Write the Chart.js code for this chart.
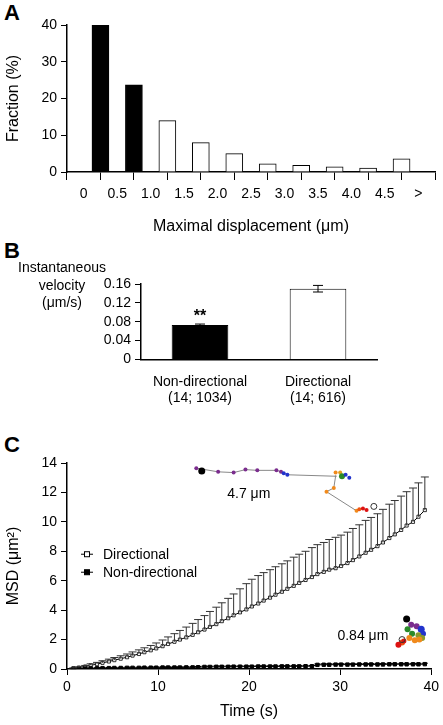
<!DOCTYPE html>
<html>
<head>
<meta charset="utf-8">
<script src="https://cdn.jsdelivr.net/npm/chart.js@4.4.1/dist/chart.umd.min.js"></script>
<style>
body { margin: 0; background: #fff; width: 443px; height: 725px; position: relative; overflow: hidden; font-family: "Liberation Sans", Arial, sans-serif; }
canvas { position: absolute; left: 0; }
.lbl { position: absolute; font-weight: bold; font-size: 22px; }
</style>
</head>
<body>
<div class="lbl" style="left:4px;top:0px">A</div>
<div class="lbl" style="left:4px;top:238px">B</div>
<div class="lbl" style="left:4px;top:432px">C</div>
<div style="position:absolute;left:0;top:0;width:443px;height:240px"><canvas id="chartA"></canvas></div>
<div style="position:absolute;left:0;top:240px;width:443px;height:185px"><canvas id="chartB"></canvas></div>
<div style="position:absolute;left:0;top:440px;width:443px;height:285px"><canvas id="chartC"></canvas></div>
<script>
// panel A: histogram of maximal displacement
var binCenters = [0.25, 0.75, 1.25, 1.75, 2.25, 2.75, 3.25, 3.75, 4.25, 4.75];
var fractions = [40, 23.7, 14, 8, 5, 2.2, 1.8, 1.4, 1.1, 3.6];
var fractionTicks = [0, 10, 20, 30, 40];

// panel B: instantaneous velocity
var velocityGroups = [['Non-directional', '(14; 1034)'], ['Directional', '(14; 616)']];
var velocityMeans = [0.073, 0.150];
var velocityErr = [0.002, 0.007];
var velocityTicks = [0, 0.04, 0.08, 0.12, 0.16];

// panel C: MSD vs time
var times = [0.7,1.3,2.0,2.6,3.3,3.9,4.6,5.2,5.9,6.6,7.2,7.9,8.5,9.2,9.8,10.5,11.1,11.8,12.4,13.1,13.8,14.4,15.1,15.7,16.4,17.0,17.7,18.3,19.0,19.7,20.3,21.0,21.6,22.3,22.9,23.6,24.2,24.9,25.5,26.2,26.9,27.5,28.2,28.8,29.5,30.1,30.8,31.4,32.1,32.8,33.4,34.1,34.7,35.4,36.0,36.7,37.3,38.0,38.6,39.3];
var msdDirectional = [0.05,0.1,0.17,0.25,0.33,0.42,0.51,0.6,0.7,0.8,0.91,1.02,1.14,1.27,1.4,1.55,1.7,1.85,2.0,2.15,2.32,2.5,2.68,2.86,3.05,3.25,3.45,3.65,3.85,4.05,4.25,4.45,4.65,4.85,5.05,5.25,5.45,5.65,5.85,6.05,6.25,6.45,6.6,6.75,6.85,7.0,7.2,7.4,7.65,7.9,8.1,8.35,8.6,8.9,9.15,9.45,9.75,10.0,10.35,10.8];
var errDirectional = [0.03,0.05,0.07,0.1,0.12,0.14,0.16,0.18,0.2,0.22,0.25,0.28,0.3,0.33,0.37,0.42,0.48,0.55,0.62,0.7,0.78,0.86,0.95,1.05,1.15,1.25,1.35,1.45,1.6,1.75,1.85,1.9,1.9,1.9,1.9,1.9,1.9,1.95,1.95,1.95,2.0,2.0,2.0,2.05,2.1,2.1,2.1,2.15,2.15,2.2,2.2,2.2,2.25,2.3,2.3,2.3,2.3,2.3,2.3,2.25];
var msdNonDirectional = [0.01,0.02,0.03,0.04,0.05,0.06,0.06,0.07,0.07,0.08,0.08,0.08,0.09,0.09,0.09,0.1,0.1,0.1,0.1,0.11,0.11,0.12,0.14,0.14,0.15,0.15,0.15,0.16,0.16,0.16,0.16,0.17,0.17,0.17,0.17,0.18,0.18,0.18,0.18,0.19,0.19,0.28,0.29,0.29,0.3,0.3,0.3,0.3,0.31,0.31,0.31,0.31,0.31,0.32,0.32,0.32,0.32,0.32,0.32,0.33];
var errNonDirectional = [0.01,0.02,0.03,0.03,0.04,0.04,0.04,0.04,0.04,0.04,0.04,0.04,0.04,0.04,0.05,0.05,0.05,0.05,0.05,0.05,0.05,0.05,0.05,0.05,0.05,0.05,0.05,0.05,0.05,0.05,0.05,0.05,0.05,0.05,0.05,0.05,0.05,0.05,0.05,0.05,0.05,0.06,0.06,0.06,0.06,0.06,0.06,0.06,0.06,0.06,0.06,0.06,0.06,0.06,0.06,0.06,0.06,0.06,0.06,0.06];
var msdTicks = [0, 2, 4, 6, 8, 10, 12, 14];

// example trajectories (decorative insets), [time, msd, colour, radius]
var trackLong = [[14.2,13.65,'#7b2d8e',2],[16.6,13.4,'#7b2d8e',2],[18.3,13.35,'#7b2d8e',2],[19.6,13.55,'#7b2d8e',2],[20.9,13.5,'#7b2d8e',2],[23.0,13.5,'#7b2d8e',2],[23.5,13.4,'#7b2d8e',2],[23.8,13.3,'#2233cc',2],[24.2,13.2,'#2233cc',2],[29.5,13.1,'#888',1],[29.3,12.3,'#f08a1c',2],[28.5,12.05,'#f08a1c',2],[29.5,13.35,'#f08a1c',2],[30.0,13.35,'#e0a020',2],[30.2,13.1,'#2a8a2a',3],[30.6,13.2,'#2233cc',2],[31.0,13.0,'#2233cc',2],[31.8,10.75,'#f08a1c',2],[32.1,10.85,'#ee5511',2],[32.5,10.9,'#dd1111',2],[32.9,10.8,'#dd1111',2]];
var trackShort = [[37.3,3.4,'#000',3.5],[37.8,3.0,'#7b2d8e',3],[38.4,2.9,'#7b2d8e',3],[38.9,2.7,'#2233cc',3.5],[39.1,2.4,'#2233cc',3],[37.4,2.7,'#2a8a2a',3],[37.9,2.4,'#2a8a2a',3],[38.6,2.3,'#8a9a2a',3],[39.0,2.1,'#8a9a2a',3],[37.6,2.1,'#f08a1c',3],[38.2,1.95,'#f08a1c',3],[38.7,2.0,'#f08a1c',3],[36.8,1.8,'#ee5511',3],[36.4,1.65,'#dd1111',3],[37.0,1.9,'#dd1111',2.5]];

var FONT = '"Liberation Sans", Arial, sans-serif';
Chart.defaults.font.family = FONT;
Chart.defaults.color = '#000';
Chart.defaults.animation = false;

function axisFit(w) {
    return function (scale) { scale.width = w; };
}
function fixedTicks(list) {
    return function (s) { s.ticks = list.map(function (v) { return { value: v }; }); };
}

// error bars drawn from dataset.errors
var errorBarPlugin = {
    id: 'errorBars',
    afterDatasetsDraw: function (chart) {
        var ctx = chart.ctx;
        chart.data.datasets.forEach(function (ds, i) {
            if (!ds.errors) return;
            var meta = chart.getDatasetMeta(i);
            var yScale = chart.scales[meta.yAxisID];
            ctx.save();
            ctx.strokeStyle = ds.errorColor || '#000';
            ctx.lineWidth = 1;
            meta.data.forEach(function (el, j) {
                var v = typeof ds.data[j] === 'object' ? ds.data[j].y : ds.data[j];
                var top = yScale.getPixelForValue(v + ds.errors[j]);
                var bot = ds.upperOnly ? el.y : yScale.getPixelForValue(v - ds.errors[j]);
                var cap = ds.capWidth || 4;
                ctx.beginPath();
                ctx.moveTo(el.x, bot); ctx.lineTo(el.x, top);
                ctx.moveTo(el.x - cap, top); ctx.lineTo(el.x + cap, top);
                if (ds.lowerCap) { ctx.moveTo(el.x - cap, bot); ctx.lineTo(el.x + cap, bot); }
                ctx.stroke();
            });
            ctx.restore();
        });
    }
};

// ----- A -----
new Chart(document.getElementById('chartA'), {
    type: 'bar',
    data: {
        datasets: [{
            data: binCenters.map(function (x, i) { return { x: x, y: fractions[i] }; }),
            backgroundColor: fractions.map(function (v, i) { return i < 2 ? '#000' : '#fff'; }),
            borderColor: '#000',
            borderWidth: 1,
            borderSkipped: 'bottom',
            barThickness: 17
        }]
    },
    options: {
        responsive: true,
        maintainAspectRatio: false,
        layout: { padding: { top: 25, right: 8, left: 0, bottom: 0 } },
        plugins: { legend: { display: false }, tooltip: { enabled: false } },
        scales: {
            x: {
                type: 'linear', min: 0, max: 5,
                grid: { drawOnChartArea: false, color: '#000', tickLength: 8 },
                border: { color: '#000', width: 1.5 },
                ticks: {
                    stepSize: 0.5, padding: 6, font: { size: 14 },
                    maxRotation: 0, autoSkip: false,
                    callback: function (v) { return v === 5 ? '>' : (v === 0 ? '0' : v.toFixed(1)); }
                },
                title: { display: true, text: 'Maximal displacement (μm)', font: { size: 16 }, padding: { top: 8 } }
            },
            y: {
                min: 0, max: 40,
                afterBuildTicks: fixedTicks(fractionTicks),
                afterFit: axisFit(67),
                grid: { drawOnChartArea: false, color: '#000', tickLength: 6 },
                border: { color: '#000', width: 1.5 },
                ticks: { font: { size: 14 }, padding: 4 },
                title: { display: true, text: 'Fraction (%)', font: { size: 16 }, padding: { bottom: 2 } }
            }
        }
    }
});

// ----- B -----
var starPlugin = {
    id: 'stars',
    afterDatasetsDraw: function (chart) {
        var meta = chart.getDatasetMeta(0);
        var el = meta.data[0];
        var y = chart.scales.y.getPixelForValue(velocityMeans[0] + velocityErr[0]);
        var ctx = chart.ctx;
        ctx.save();
        ctx.font = 'bold 16px ' + FONT;
        ctx.textAlign = 'center';
        ctx.fillStyle = '#000';
        ctx.fillText('**', el.x, y - 3);
        // horizontal y-axis title
        ctx.font = '14px ' + FONT;
        ctx.fillText('Instantaneous', 62, 32);
        ctx.fillText('velocity', 62, 50);
        ctx.fillText('(μm/s)', 62, 67);
        ctx.restore();
    }
};
new Chart(document.getElementById('chartB'), {
    type: 'bar',
    data: {
        labels: velocityGroups,
        datasets: [{
            data: velocityMeans,
            errors: velocityErr,
            capWidth: 5,
            lowerCap: true,
            backgroundColor: ['#000', '#fff'],
            borderColor: '#000',
            borderWidth: 1,
            borderSkipped: 'bottom',
            categoryPercentage: 1,
            barPercentage: 0.48
        }]
    },
    options: {
        responsive: true,
        maintainAspectRatio: false,
        layout: { padding: { top: 44, right: 66, left: 0, bottom: 12 } },
        plugins: { legend: { display: false }, tooltip: { enabled: false } },
        scales: {
            x: {
                grid: { display: false },
                border: { color: '#000', width: 1.5 },
                ticks: { font: { size: 14 }, padding: 6 }
            },
            y: {
                min: 0, max: 0.16,
                afterBuildTicks: fixedTicks(velocityTicks),
                afterFit: axisFit(141),
                grid: { drawOnChartArea: false, color: '#000', tickLength: 6 },
                border: { color: '#000', width: 1.5 },
                ticks: { autoSkip: false, font: { size: 14 }, padding: 4, callback: function (v) { return v === 0 ? '0' : v.toFixed(2); } }
            }
        }
    },
    plugins: [errorBarPlugin, starPlugin]
});

// ----- C -----
var insetPlugin = {
    id: 'insets',
    afterDatasetsDraw: function (chart) {
        var ctx = chart.ctx, xs = chart.scales.x, ys = chart.scales.y;
        function px(p) { return [xs.getPixelForValue(p[0]), ys.getPixelForValue(p[1])]; }
        ctx.save();
        // connecting line of long track
        ctx.strokeStyle = '#888';
        ctx.lineWidth = 1;
        ctx.beginPath();
        [0,1,2,3,4,5,6,7,8,9,10,11,17,18,19,20].forEach(function (k, n) {
            var p = px(trackLong[k]);
            if (n === 0) ctx.moveTo(p[0], p[1]); else ctx.lineTo(p[0], p[1]);
        });
        ctx.stroke();
        trackLong.concat(trackShort).forEach(function (t) {
            var p = px(t);
            ctx.fillStyle = t[2];
            ctx.beginPath(); ctx.arc(p[0], p[1], t[3], 0, Math.PI * 2); ctx.fill();
        });
        // start (black) and end (open) markers
        var s = px([14.8, 13.45]);
        ctx.fillStyle = '#000';
        ctx.beginPath(); ctx.arc(s[0], s[1], 3.5, 0, Math.PI * 2); ctx.fill();
        ctx.strokeStyle = '#333';
        ctx.fillStyle = '#fff';
        var e = px([33.7, 11.05]);
        ctx.beginPath(); ctx.arc(e[0], e[1], 3, 0, Math.PI * 2); ctx.fill(); ctx.stroke();
        var e2 = px([36.8, 2.0]);
        ctx.beginPath(); ctx.arc(e2[0], e2[1], 3, 0, Math.PI * 2); ctx.stroke();
        ctx.fillStyle = '#000';
        ctx.font = '14px ' + FONT;
        ctx.textAlign = 'left';
        var l1 = px([17.6, 11.6]);
        ctx.fillText('4.7 μm', l1[0], l1[1]);
        var l2 = px([29.7, 2.0]);
        ctx.fillText('0.84 μm', l2[0], l2[1]);
        // legend
        var lx = chart.chartArea.left + 14, ly = ys.getPixelForValue(7.8);
        ctx.font = '14px ' + FONT;
        ctx.lineWidth = 1;
        [['Directional', '#fff'], ['Non-directional', '#000']].forEach(function (it, n) {
            var y = ly + n * 18;
            ctx.strokeStyle = '#000';
            ctx.beginPath(); ctx.moveTo(lx, y); ctx.lineTo(lx + 12, y); ctx.stroke();
            ctx.fillStyle = it[1];
            ctx.fillRect(lx + 3.5, y - 2.5, 5, 5);
            ctx.strokeRect(lx + 3.5, y - 2.5, 5, 5);
            ctx.fillStyle = '#000';
            ctx.fillText(it[0], lx + 22, y + 5);
        });
        ctx.restore();
    }
};
new Chart(document.getElementById('chartC'), {
    type: 'line',
    data: {
        datasets: [{
            data: times.map(function (t, i) { return { x: t, y: msdNonDirectional[i] }; }),
            errors: errNonDirectional,
            upperOnly: true,
            errorColor: '#000',
            capWidth: 3,
            borderColor: '#000',
            borderWidth: 1,
            pointStyle: 'rect',
            pointRadius: 2.4,
            pointBackgroundColor: '#000',
            pointBorderColor: '#000'
        }, {
            data: times.map(function (t, i) { return { x: t, y: msdDirectional[i] }; }),
            errors: errDirectional,
            upperOnly: true,
            errorColor: '#333',
            capWidth: 4,
            borderColor: '#000',
            borderWidth: 1,
            pointStyle: 'rect',
            pointRadius: 2.2,
            pointBackgroundColor: '#fff',
            pointBorderColor: '#000',
            pointBorderWidth: 0.8
        }]
    },
    options: {
        responsive: true,
        maintainAspectRatio: false,
        layout: { padding: { top: 23, right: 8, left: 0, bottom: 0 } },
        plugins: { legend: { display: false }, tooltip: { enabled: false } },
        scales: {
            x: {
                type: 'linear', min: 0, max: 40,
                grid: { drawOnChartArea: false, color: '#000', tickLength: 6 },
                border: { color: '#000', width: 1.5 },
                ticks: { stepSize: 10, font: { size: 14 }, padding: 4 },
                title: { display: true, text: 'Time (s)', font: { size: 16 }, padding: { top: 2 } }
            },
            y: {
                min: 0, max: 14,
                afterBuildTicks: fixedTicks(msdTicks),
                afterFit: axisFit(67),
                grid: { drawOnChartArea: false, color: '#000', tickLength: 6 },
                border: { color: '#000', width: 1.5 },
                ticks: { font: { size: 14 }, padding: 4 },
                title: { display: true, text: 'MSD (μm²)', font: { size: 16 }, padding: { bottom: 6 } }
            }
        }
    },
    plugins: [errorBarPlugin, insetPlugin]
});
</script>
</body>
</html>
